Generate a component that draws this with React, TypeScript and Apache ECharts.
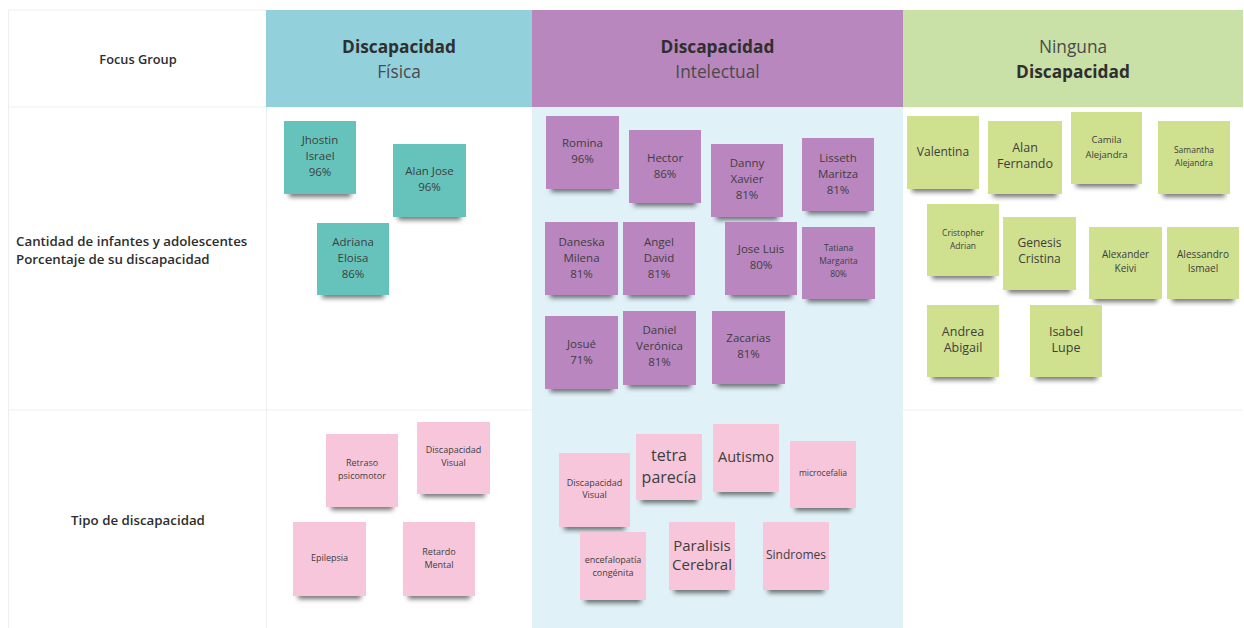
import React, { useEffect, useRef } from "react";
import * as echarts from "echarts";

// ---------- data ----------
const rowLabels = [
  "Focus Group",
  "Cantidad de infantes y adolescentes\nPorcentaje de su discapacidad",
  "Tipo de discapacidad",
];
const headerBold = ["Discapacidad", "Discapacidad", "Discapacidad"];
const headerSub = ["Física", "Intelectual", "Ninguna"];

const fisicaNinos = ["Jhostin\nIsrael", "Alan Jose", "Adriana\nEloisa"];
const fisicaPorcentaje = [96, 96, 86];

const intelectualNinos = [
  "Romina", "Hector", "Danny\nXavier", "Lisseth\nMaritza",
  "Daneska\nMilena", "Angel\nDavid", "Jose Luis", "Tatiana\nMargarita",
  "Josué", "Daniel\nVerónica", "Zacarias",
];
const intelectualPorcentaje = [96, 86, 81, 81, 81, 81, 80, 80, 71, 81, 81];

const ningunaNinos = [
  "Valentina", "Alan\nFernando", "Camila\nAlejandra", "Samantha\nAlejandra",
  "Cristopher\nAdrian", "Genesis\nCristina", "Alexander\nKeivi", "Alessandro\nIsmael",
  "Andrea\nAbigail", "Isabel\nLupe",
];

const fisicaTipos = ["Retraso\npsicomotor", "Discapacidad\nVisual", "Epilepsia", "Retardo\nMental"];
const intelectualTipos = [
  "Discapacidad\nVisual", "tetra\nparecía", "Autismo", "microcefalia",
  "encefalopatía\ncongénita", "Paralisis\nCerebral", "Sindromes",
];

// ---------- layout (board units) ----------
// [x0, y0, x1, y1, textCenterY, fontSize, lineHeight]
const fisicaNinosPos = [
  [284, 121, 356, 194, 155, 11.5, 16],
  [393, 144, 466, 217, 178.5, 11.5, 16],
  [317, 223, 389, 295, 257, 11.5, 16],
];
const intelectualNinosPos = [
  [546, 116, 619, 189, 150, 11.5, 16],
  [629, 130, 701, 203, 165, 11.5, 16],
  [711, 144, 783, 217, 178, 11.5, 16],
  [802, 138, 874, 211, 173, 11.5, 16],
  [545, 222, 618, 295, 257, 11.5, 16],
  [623, 222, 695, 295, 257, 11.5, 16],
  [725, 222, 797, 295, 256, 11.5, 16],
  [802, 227, 875, 299, 260, 8.5, 13],
  [545, 316, 618, 389, 351, 11.5, 16],
  [623, 311, 696, 385, 345, 11.5, 16],
  [712, 311, 785, 384, 345, 11.5, 16],
];
const ningunaNinosPos = [
  [907, 116, 979, 189, 151, 12, 16],
  [988, 121, 1062, 194, 155, 12.5, 16],
  [1071, 112, 1142, 184, 146.5, 9.5, 15],
  [1158, 121, 1230, 194, 155.5, 8.5, 13],
  [927, 204, 999, 276, 238.5, 8.5, 13],
  [1003, 217, 1076, 290, 250.5, 12, 16],
  [1089, 227, 1162, 299, 261, 10, 14],
  [1167, 227, 1239, 299, 261, 10, 14],
  [927, 305, 999, 377, 339, 12.5, 16],
  [1030, 305, 1102, 377, 339, 12.5, 16],
];
const fisicaTiposPos = [
  [326, 434, 398, 507, 468.5, 9, 13],
  [417, 422, 490, 494, 455.5, 9, 13],
  [293, 522, 366, 596, 557, 9, 13],
  [403, 522, 475, 596, 557.5, 9, 13],
];
const intelectualTiposPos = [
  [559, 453, 630, 527, 488.5, 9, 12],
  [636, 434, 702, 500, 466, 16, 22],
  [713, 424, 779, 492, 456, 14.5, 18],
  [790, 441, 856, 508, 472, 8.5, 12],
  [580, 532, 646, 600, 565.5, 9, 13],
  [669, 522, 735, 590, 554, 15, 19],
  [763, 522, 829, 590, 554, 12, 16],
];

// cells: [x0, y0, x1, y1]
const headerCells = [
  [266, 10, 532, 107],
  [532, 10, 903, 107],
  [903, 10, 1243, 107],
];
const headerColors = ["#92d0dc", "#b887bd", "#c9e0a6"];
const labelCells = [
  [8, 10, 266, 107],
  [8, 107, 266, 410],
  [8, 410, 266, 628],
];
const NOTE_COLORS = { teal: "#66c3bc", purple: "#b986c0", green: "#cfe08e", pink: "#f7c6da" };

type Note = { text: string; pos: number[]; color: string };
const notes: Note[] = [];
fisicaNinos.forEach((n, i) => notes.push({ text: `${n}\n${fisicaPorcentaje[i]}%`, pos: fisicaNinosPos[i], color: NOTE_COLORS.teal }));
intelectualNinos.forEach((n, i) => notes.push({ text: `${n}\n${intelectualPorcentaje[i]}%`, pos: intelectualNinosPos[i], color: NOTE_COLORS.purple }));
ningunaNinos.forEach((n, i) => notes.push({ text: n, pos: ningunaNinosPos[i], color: NOTE_COLORS.green }));
fisicaTipos.forEach((n, i) => notes.push({ text: n, pos: fisicaTiposPos[i], color: NOTE_COLORS.pink }));
intelectualTipos.forEach((n, i) => notes.push({ text: n, pos: intelectualTiposPos[i], color: NOTE_COLORS.pink }));

const FONT = "'Open Sans', 'Noto Sans', sans-serif";

export default function App() {
  const ref = useRef<HTMLDivElement>(null);
  useEffect(() => {
    if (!ref.current) return;
    const chart = echarts.init(ref.current, undefined, { renderer: "svg" });

    const option: any = {
      animation: false,
      backgroundColor: "#ffffff",
      grid: { left: 0, right: 0, top: 0, bottom: 0 },
      xAxis: { type: "value", min: 0, max: 1244, show: false },
      yAxis: { type: "value", min: 0, max: 628, inverse: true, show: false },
      series: [
        // background structure
        {
          type: "custom",
          clip: false,
          silent: true,
          data: [[0, 0, 1244, 628]],
          renderItem: (params: any, api: any) => {
            const p = (x: number, y: number) => api.coord([x, y]);
            const line = (x0: number, y0: number, x1: number, y1: number) => {
              const a = p(x0, y0);
              const b = p(x1, y1);
              return { type: "line", shape: { x1: a[0], y1: a[1], x2: b[0], y2: b[1] }, style: { stroke: "#efefef", lineWidth: 1 } };
            };
            const a = p(532, 107);
            const b = p(903, 628);
            return {
              type: "group",
              children: [
                { type: "rect", shape: { x: a[0], y: a[1], width: b[0] - a[0], height: b[1] - a[1] }, style: { fill: "#e0f1f7" } },
                line(8, 10, 266, 10),
                line(8.5, 10, 8.5, 628),
                line(8, 107, 532, 107),
                line(903, 107, 1243, 107),
                line(8, 410, 532, 410),
                line(903, 410, 1243, 410),
                line(266.5, 107, 266.5, 628),
              ],
            };
          },
        },
        // headers
        {
          type: "custom",
          clip: false,
          silent: true,
          data: headerCells,
          renderItem: (params: any, api: any) => {
            const i = params.dataIndex;
            const a = api.coord([api.value(0), api.value(1)]);
            const b = api.coord([api.value(2), api.value(3)]);
            const boldFirst = i < 2;
            const text = boldFirst
              ? `{b|${headerBold[i]}}\n{r|${headerSub[i]}}`
              : `{r|${headerSub[i]}}\n{b|${headerBold[i]}}`;
            return {
              type: "group",
              children: [
                { type: "rect", shape: { x: a[0], y: a[1], width: b[0] - a[0], height: b[1] - a[1] }, style: { fill: headerColors[i] } },
                {
                  type: "text",
                  x: (a[0] + b[0]) / 2,
                  y: (a[1] + b[1]) / 2 + 0.5,
                  style: {
                    text,
                    align: "center",
                    verticalAlign: "middle",
                    rich: {
                      b: { fontFamily: FONT, fontSize: 17.3, fontWeight: "bold", fill: "#2f2f2f", lineHeight: 25 },
                      r: { fontFamily: FONT, fontSize: 17.3, fontWeight: "normal", fill: "#4a4a4a", lineHeight: 25 },
                    },
                  },
                },
              ],
            };
          },
        },
        // row labels
        {
          type: "custom",
          clip: false,
          silent: true,
          data: labelCells,
          renderItem: (params: any, api: any) => {
            const i = params.dataIndex;
            const a = api.coord([api.value(0), api.value(1)]);
            const b = api.coord([api.value(2), api.value(3)]);
            const centered = i !== 1;
            return {
              type: "text",
              x: centered ? (a[0] + b[0]) / 2 + 1 : a[0] + 8,
              y: (a[1] + b[1]) / 2 + (i === 1 ? -9 : i === 0 ? 0 : 1),
              style: {
                text: rowLabels[i],
                align: centered ? "center" : "left",
                verticalAlign: "middle",
                fontFamily: FONT,
                fontSize: i === 0 ? 12.8 : 13.3,
                fontWeight: 600,
                fill: "#2d2d2d",
                lineHeight: 18,
              },
            };
          },
        },
        // sticky notes
        {
          type: "custom",
          clip: false,
          silent: true,
          data: notes.map((n) => [n.pos[0], n.pos[1], n.pos[2], n.pos[3], n.pos[4]]),
          renderItem: (params: any, api: any) => {
            const n = notes[params.dataIndex];
            const a = api.coord([api.value(0), api.value(1)]);
            const b = api.coord([api.value(2), api.value(3)]);
            const ty = api.coord([api.value(0), api.value(4)])[1];
            const w = b[0] - a[0];
            const h = b[1] - a[1];
            return {
              type: "group",
              children: [
                {
                  type: "rect",
                  shape: { x: a[0] + 5, y: b[1] - 8, width: w - 10, height: 8 },
                  style: { fill: n.color, shadowBlur: 5, shadowOffsetY: 3, shadowColor: "rgba(0,0,0,0.55)" },
                },
                {
                  type: "rect",
                  shape: { x: a[0], y: a[1], width: w, height: h },
                  style: { fill: n.color },
                },
                {
                  type: "text",
                  x: (a[0] + b[0]) / 2,
                  y: ty,
                  style: {
                    text: n.text,
                    align: "center",
                    verticalAlign: "middle",
                    fontFamily: FONT,
                    fontSize: n.pos[5],
                    lineHeight: n.pos[6],
                    fill: "#3e3e3e",
                  },
                },
              ],
            };
          },
        },
      ],
    };
    chart.setOption(option);
    return () => chart.dispose();
  }, []);
  return <div ref={ref} style={{ position: "absolute", left: 0, top: 0, width: 1244, height: 628 }} />;
}
